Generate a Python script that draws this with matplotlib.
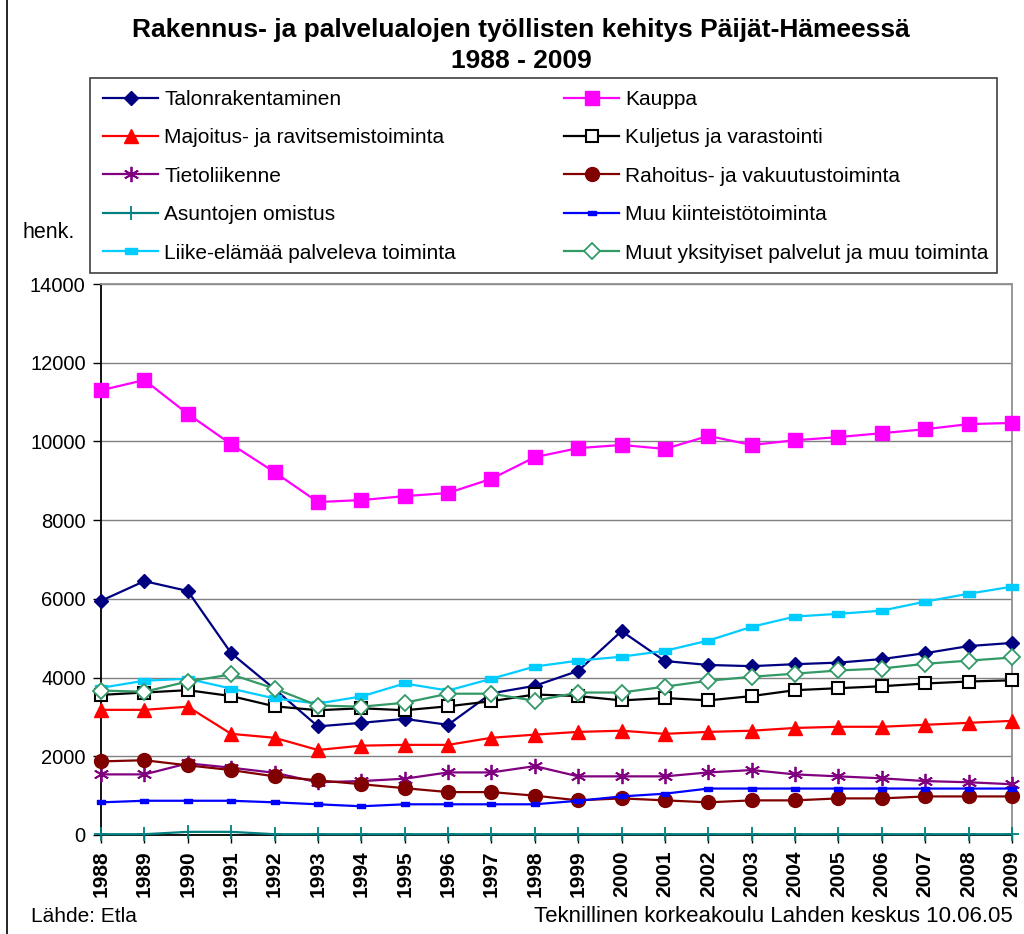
import matplotlib
matplotlib.use('Agg')
import matplotlib.pyplot as plt
from matplotlib.lines import Line2D
from matplotlib.patches import Rectangle

plt.rcParams['font.family'] = ['Liberation Sans', 'DejaVu Sans']

years = list(range(1988, 2010))
year_labels = [str(y) for y in years]

talonrakentaminen = [5950, 6450, 6200, 4620, 3710, 2760, 2850, 2950, 2800, 3600, 3790,
                     4170, 5180, 4420, 4320, 4290, 4340, 4380, 4470, 4620, 4800, 4880]
kauppa = [11300, 11560, 10700, 9930, 9220, 8460, 8510, 8610, 8690, 9050, 9600,
          9830, 9910, 9810, 10140, 9910, 10030, 10110, 10210, 10310, 10440, 10470]
majoitus = [3180, 3180, 3260, 2570, 2470, 2160, 2270, 2290, 2290, 2470, 2550,
            2620, 2650, 2570, 2620, 2650, 2720, 2750, 2750, 2800, 2850, 2900]
kuljetus = [3560, 3620, 3680, 3530, 3270, 3170, 3220, 3170, 3270, 3400, 3570,
            3530, 3420, 3480, 3420, 3530, 3680, 3730, 3780, 3850, 3900, 3930]
tietoliikenne = [1540, 1540, 1820, 1710, 1580, 1340, 1370, 1430, 1590, 1590, 1750,
                 1490, 1490, 1490, 1590, 1650, 1540, 1490, 1440, 1370, 1340, 1290]
rahoitus = [1870, 1900, 1770, 1650, 1490, 1390, 1290, 1190, 1090, 1090, 1000,
            880, 930, 880, 830, 880, 880, 930, 930, 980, 980, 980]
asuntojen_omistus = [20, 20, 80, 80, 20, 20, 20, 20, 20, 20, 20,
                     20, 20, 20, 20, 20, 20, 20, 20, 20, 20, 20]
muu_kiinteisto = [830, 870, 870, 870, 830, 780, 730, 780, 780, 780, 780,
                  870, 980, 1050, 1180, 1180, 1180, 1180, 1180, 1180, 1180, 1180]
liike_elama = [3740, 3920, 3970, 3720, 3470, 3340, 3520, 3850, 3670, 3970, 4280,
               4430, 4530, 4680, 4940, 5290, 5550, 5620, 5700, 5930, 6130, 6310]
muut_yksityiset = [3670, 3640, 3900, 4080, 3720, 3290, 3260, 3360, 3590, 3590, 3410,
                   3620, 3620, 3770, 3920, 4020, 4100, 4180, 4230, 4350, 4430, 4510]

names = ["Talonrakentaminen", "Kauppa", "Majoitus- ja ravitsemistoiminta",
         "Kuljetus ja varastointi", "Tietoliikenne", "Rahoitus- ja vakuutustoiminta",
         "Asuntojen omistus", "Muu kiinteistötoiminta", "Liike-elämää palveleva toiminta",
         "Muut yksityiset palvelut ja muu toiminta"]
values = [talonrakentaminen, kauppa, majoitus, kuljetus, tietoliikenne, rahoitus,
          asuntojen_omistus, muu_kiinteisto, liike_elama, muut_yksityiset]

rect_marker = [(-1, -0.5), (1, -0.5), (1, 0.5), (-1, 0.5), (-1, -0.5)]
styles = [
    dict(color='#000080', marker='D', ms=7.5, mfc='#000080', mec='#000080'),
    dict(color='#FF00FF', marker='s', ms=10, mfc='#FF00FF', mec='#FF00FF'),
    dict(color='#FF0000', marker='^', ms=10, mfc='#FF0000', mec='#FF0000'),
    dict(color='#000000', marker='s', ms=9, mfc='white', mec='#000000', mew=1.5),
    dict(color='#800080', marker=(6, 2, 0), ms=11, mfc='#800080', mec='#800080', mew=1.3),
    dict(color='#800000', marker='o', ms=10, mfc='#800000', mec='#800000'),
    dict(color='#008080', marker='+', ms=10, mfc='#008080', mec='#008080', mew=1.3),
    dict(color='#0000FF', marker=rect_marker, ms=6, mfc='#0000FF', mec='#0000FF'),
    dict(color='#00CCFF', marker=rect_marker, ms=8, mfc='#00CCFF', mec='#00CCFF'),
    dict(color='#339966', marker='D', ms=8, mfc='white', mec='#339966', mew=1.3),
]

W, H = 1024, 934
fig = plt.figure(figsize=(W / 100, H / 100), dpi=100)


def fx(px):
    return px / W


def fy(py):
    return 1 - py / H


ax = fig.add_axes([fx(101), fy(835), fx(1012) - fx(101), fy(284) - fy(835)])

for name, vals, st in zip(names, values, styles):
    ax.plot(years, vals, lw=1.6, label=name, clip_on=False, zorder=3, **st)

ax.set_xlim(1988, 2009)
ax.set_ylim(0, 14000)
ax.set_yticks(range(0, 14001, 2000))
ax.set_yticklabels([str(v) for v in range(0, 14001, 2000)], fontsize=14.5)
ax.set_xticks(years)
ax.set_xticklabels(year_labels, rotation=90, fontsize=15, fontweight='bold')
ax.tick_params(axis='y', direction='out', length=6, width=1, pad=5, color='black')
ax.tick_params(axis='x', direction='out', length=6, width=1, pad=5, color='black')
ax.yaxis.grid(True, color='#808080', lw=1)
ax.set_axisbelow(True)
for s in ['top', 'right']:
    ax.spines[s].set_color('#909090')
    ax.spines[s].set_linewidth(1.3)
for s in ['left', 'bottom']:
    ax.spines[s].set_color('black')
    ax.spines[s].set_linewidth(1.3)

# Title
fig.text(fx(521), fy(30), "Rakennus- ja palvelualojen työllisten kehitys Päijät-Hämeessä",
         ha='center', va='center', fontsize=19, fontweight='bold')
fig.text(fx(521), fy(61), "1988 - 2009", ha='center', va='center', fontsize=19, fontweight='bold')

fig.text(fx(22), fy(232), "henk.", ha='left', va='center', fontsize=15.5)
fig.text(fx(31), fy(917), "Lähde: Etla", ha='left', va='center', fontsize=15)
fig.text(fx(1013), fy(917), "Teknillinen korkeakoulu Lahden keskus 10.06.05",
         ha='right', va='center', fontsize=16)

# Legend frame
fig.add_artist(Rectangle((fx(90), fy(273)), fx(997) - fx(90), fy(78) - fy(273),
                         transform=fig.transFigure, fill=False, ec='#404040', lw=1.2))

col1 = [0, 2, 4, 6, 8]
col2 = [1, 3, 5, 7, 9]
for col, xpx in ((col1, 103), (col2, 564)):
    handles = [Line2D([], [], lw=1.6, **styles[i]) for i in col]
    labels = [names[i] for i in col]
    fig.legend(handles, labels, loc='upper left', bbox_to_anchor=(fx(xpx), fy(90)),
               bbox_transform=fig.transFigure, frameon=False, fontsize=15,
               handlelength=2.65, handletextpad=0.3, borderpad=0, borderaxespad=0,
               labelspacing=0.93)

# outer chart border (left edge visible)
fig.add_artist(Line2D([fx(7), fx(7)], [0, 1], transform=fig.transFigure, color='black', lw=1.2))

fig.savefig('out.png', dpi=100)
